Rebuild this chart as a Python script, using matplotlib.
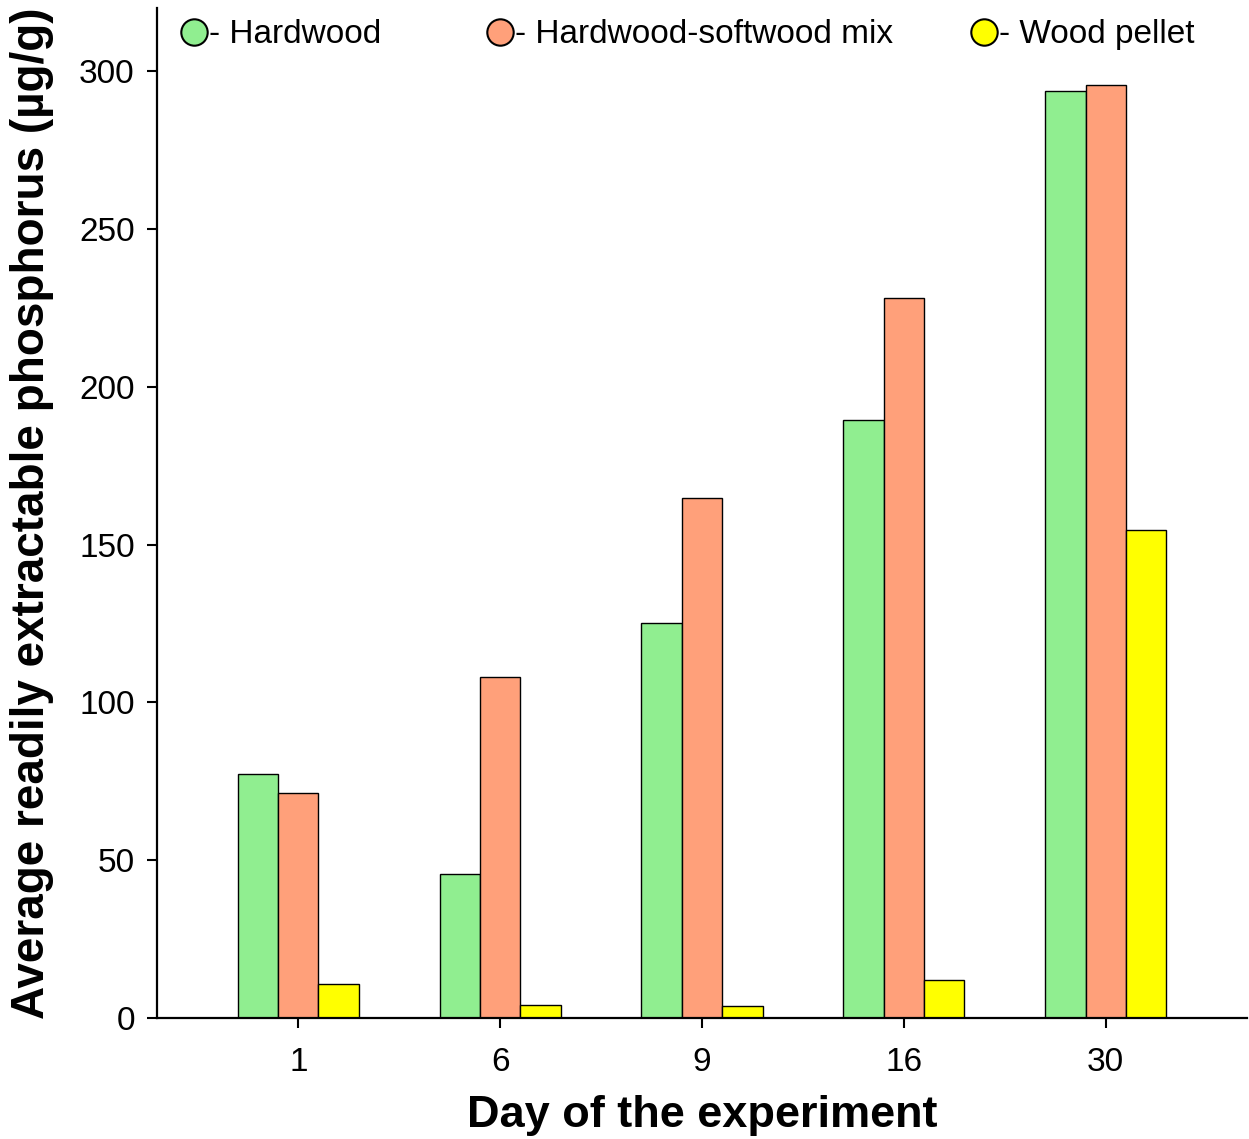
import matplotlib
matplotlib.use("Agg")
import matplotlib.pyplot as plt
import numpy as np
from matplotlib.lines import Line2D

days = ["1", "6", "9", "16", "30"]
hardwood = [77.2, 45.6, 125.3, 189.6, 293.8]
mix = [71.2, 108.2, 164.6, 228.2, 295.6]
pellet = [10.8, 4.1, 3.8, 12.0, 154.7]
series_names = ["Hardwood", "Hardwood-softwood mix", "Wood pellet"]
colors = ["#90EE90", "#FFA07A", "#FFFF00"]

plt.rcParams['font.family'] = ['Liberation Sans', 'DejaVu Sans']

fig = plt.figure(figsize=(12.49, 11.39), dpi=100)
ax = fig.add_axes([0.1257, 0.1062, 0.8727, 0.8868])

x = np.arange(len(days))
w = 0.2
for i, (vals, c) in enumerate(zip([hardwood, mix, pellet], colors)):
    ax.bar(x + (i - 1) * w, vals, width=w, color=c, edgecolor="black", linewidth=1.0, zorder=2)

ax.set_xlim(-0.7, 4.7)
ax.set_ylim(0, 320)
ax.set_xticks(x)
ax.set_xticklabels(days)
ax.set_yticks([0, 50, 100, 150, 200, 250, 300])
ax.tick_params(axis='both', direction='out', length=7, width=1.5, labelsize=24, pad=9)
ax.tick_params(axis='x', pad=14)
for s in ['top', 'right']:
    ax.spines[s].set_visible(False)
for s in ['left', 'bottom']:
    ax.spines[s].set_linewidth(1.6)

ax.set_xlabel("Day of the experiment", fontsize=32.5, fontweight='bold', labelpad=12)
ax.set_ylabel("Average readily extractable phosphorus (µg/g)", fontsize=33, fontweight='bold',
              labelpad=18)

anchors = [0.143, 0.388, 0.776]
for name, c, ax_x in zip(series_names, colors, anchors):
    h = Line2D([], [], marker='o', linestyle='none', markersize=19, markerfacecolor=c,
               markeredgecolor='black', markeredgewidth=1.5)
    leg = fig.legend([h], ["- " + name], loc='center left', bbox_to_anchor=(ax_x, 0.9695),
                     frameon=False, fontsize=24, handletextpad=0.0, borderaxespad=0,
                     handlelength=0.9, borderpad=0)

fig.savefig("out.png", dpi=100)
